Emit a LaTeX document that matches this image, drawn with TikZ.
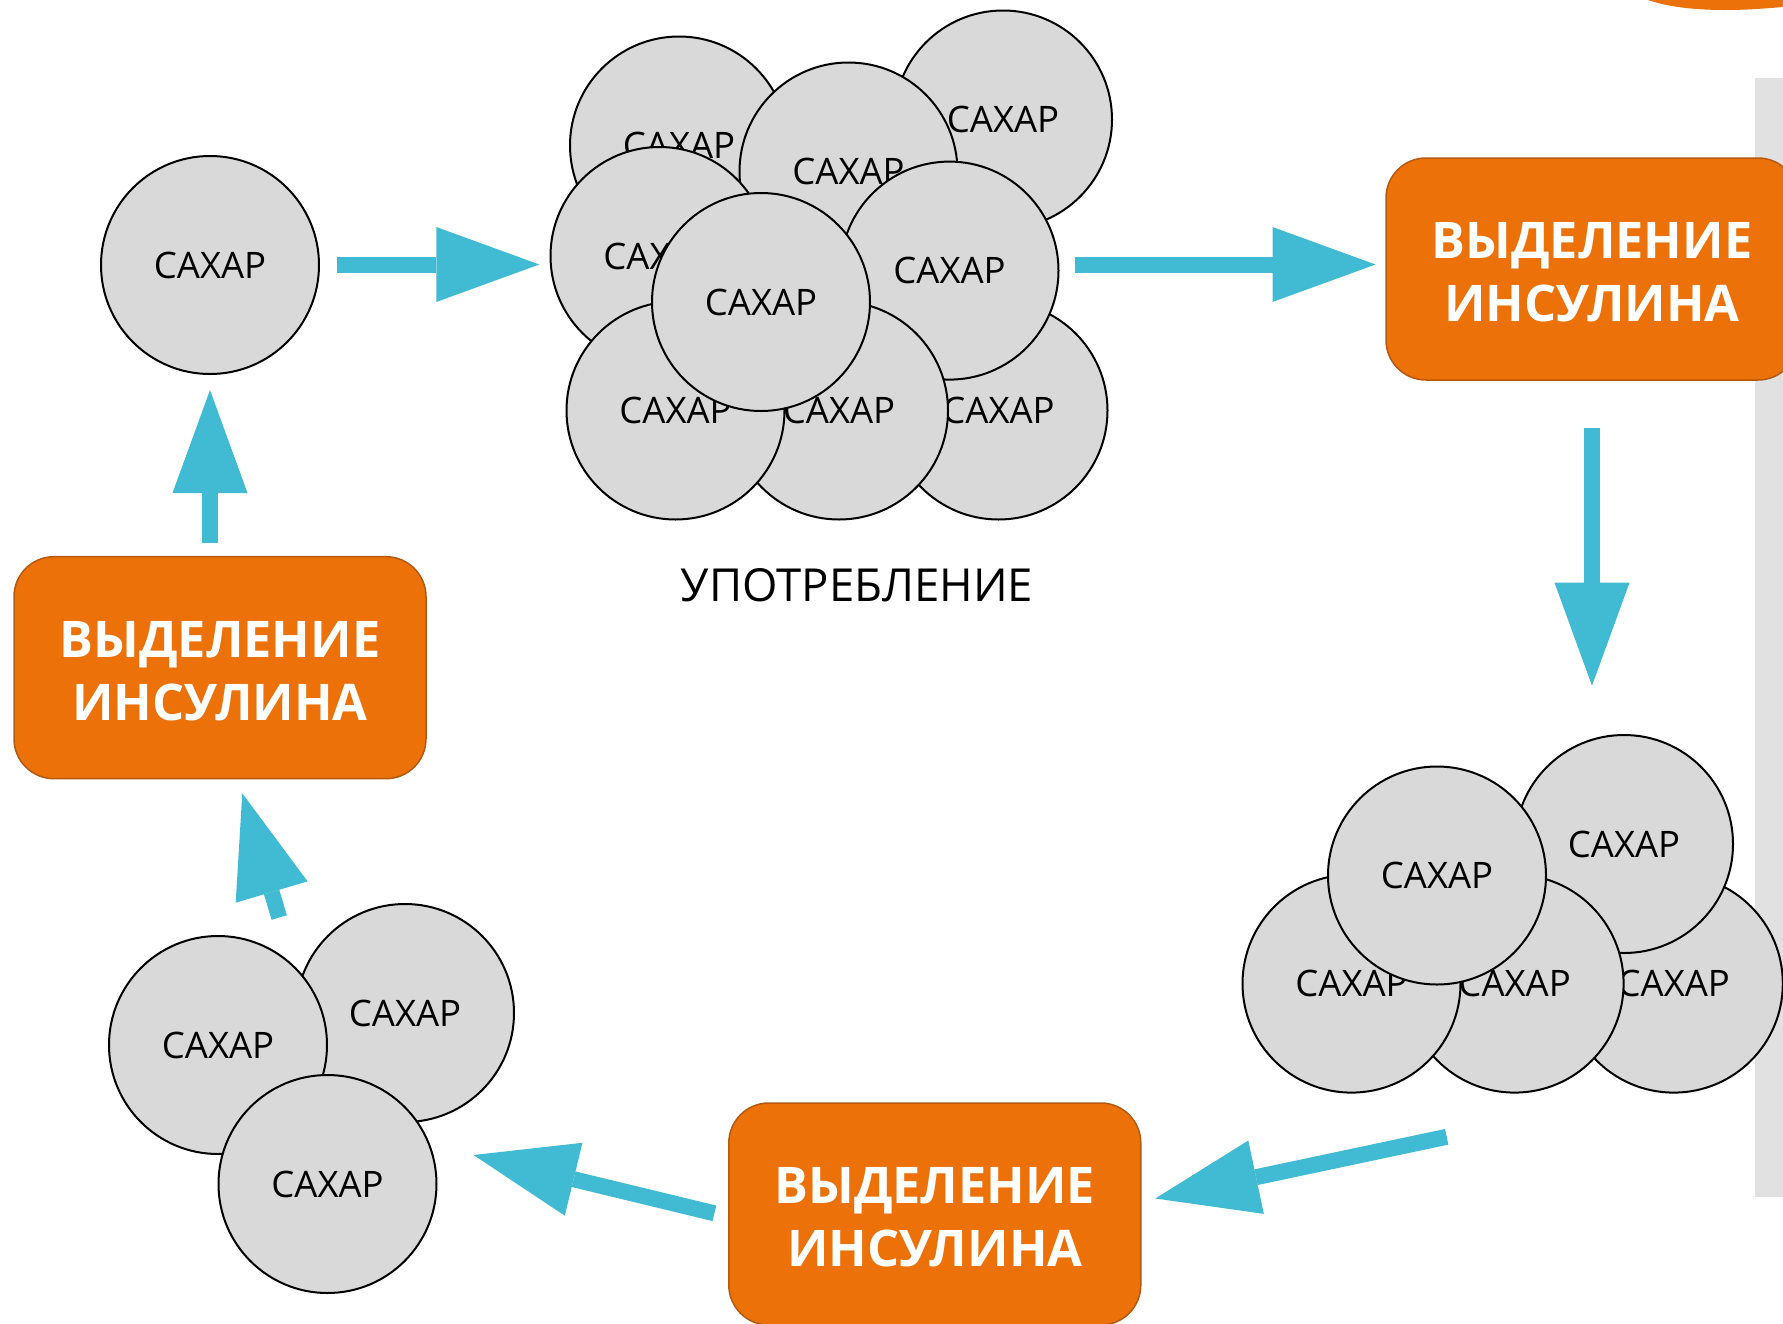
\documentclass[tikz,border=0pt]{standalone}
\usepackage{fontspec}
\setmainfont{Open Sans}
\usetikzlibrary{arrows.meta}
\definecolor{sugarfill}{HTML}{D9D9D9}
\definecolor{boxorange}{HTML}{ED7109}
\definecolor{boxedge}{HTML}{B45A10}
\definecolor{arrowcyan}{HTML}{41BAD3}
\definecolor{barshade}{HTML}{E1E1E1}
\begin{document}
\begin{tikzpicture}[x=1pt,y=-1pt,
  sugar/.style={circle,draw=black,line width=2pt,fill=sugarfill,minimum size=218pt,inner sep=0pt,
    font=\fontsize{36.5}{42}\selectfont},
  insulin/.style={rectangle,rounded corners=40pt,draw=boxedge,line width=1.5pt,fill=boxorange,
    minimum width=412pt,minimum height=222pt},
  insulintext/.style={text=white,align=center,inner sep=0pt,
    font=\bfseries\fontsize{50.5}{63.4}\selectfont},
  flow/.style={draw=arrowcyan,line width=16pt,-{Triangle[length=103pt,width=75pt,line width=0pt]}},
  caption/.style={font=\fontsize{45.5}{52}\selectfont,inner sep=0pt}
]
\useasboundingbox (0,0) rectangle (1783,1323);
\clip (0,0) rectangle (1783,1323);
% background elements
\fill[barshade] (1755,77.7) rectangle (1783,1197);
\fill[boxorange] (1648,0) .. controls (1668,7) and (1695,10) .. (1725,10)
  .. controls (1750,10) and (1770,8) .. (1783,7) -- (1783,0) -- cycle;

% single sugar
\node[sugar] (s0) at (210,265) {САХАР};

% top cluster
\node[sugar] (a1) at (679,145.5) {САХАР};
\node[sugar] (a2) at (1003,119.5) {САХАР};
\node[sugar] (a3) at (848.5,171.5) {САХАР};
\node[sugar] (a4) at (659.5,256) {САХАР};
\node[sugar] (a8) at (998.5,410.5) {САХАР};
\node[sugar] (a5) at (949.5,270.6) {САХАР};
\node[sugar] (a7) at (839,410.5) {САХАР};
\node[sugar] (a6) at (675.5,410.5) {САХАР};
\node[sugar] (a9) at (761,302) {САХАР};
\node[caption] (use) at (857,585) {УПОТРЕБЛЕНИЕ};

% bottom-right cluster
\node[sugar] (d5) at (1673.8,983.6) {САХАР};
\node[sugar] (d1) at (1624,844) {САХАР};
\node[sugar] (d4) at (1514.6,983.6) {САХАР};
\node[sugar] (d3) at (1351.5,983.6) {САХАР};
\node[sugar] (d2) at (1437,875.5) {САХАР};

% bottom-left cluster
\node[sugar] (e1) at (405,1013) {САХАР};
\node[sugar] (e2) at (218,1045) {САХАР};
\node[sugar] (e3) at (327.5,1184) {САХАР};

% insulin boxes
\node[insulin] (ins1) at (1592,269) {};
\node[insulin] (ins2) at (934.8,1214) {};
\node[insulin] (ins3) at (220,667.7) {};
\node[insulintext] (ins1t) at ([yshift=-3.5]ins1.center) {ВЫДЕЛЕНИЕ\\ИНСУЛИНА};
\node[insulintext] (ins2t) at ([yshift=-3.5]ins2.center) {ВЫДЕЛЕНИЕ\\ИНСУЛИНА};
\node[insulintext] (ins3t) at ([yshift=-3.5]ins3.center) {ВЫДЕЛЕНИЕ\\ИНСУЛИНА};

% arrow ends
\coordinate (f1s) at (337.3,264.5);  \coordinate (f1e) at (539.3,264.5);
\coordinate (f2s) at (1074.6,264.5); \coordinate (f2e) at (1375.5,264.5);
\coordinate (f3s) at (1592,427.6);   \coordinate (f3e) at (1592,685.7);
\coordinate (f4s) at (1446.7,1136.8); \coordinate (f4e) at (1155.3,1198.5);
\coordinate (f5s) at (714.4,1213.3); \coordinate (f5e) at (473.5,1155);
\coordinate (f6s) at (279.2,917.5);  \coordinate (f6e) at (242.3,793.3);
\coordinate (f7s) at (210,542.6);    \coordinate (f7e) at (210,390);

\draw[flow] (f1s) -- (f1e);
\draw[flow] (f2s) -- (f2e);
\draw[flow] (f3s) -- (f3e);
\draw[flow] (f4s) -- (f4e);
\draw[flow] (f5s) -- (f5e);
\draw[flow] (f6s) -- (f6e);
\draw[flow] (f7s) -- (f7e);
\end{tikzpicture}
\end{document}
